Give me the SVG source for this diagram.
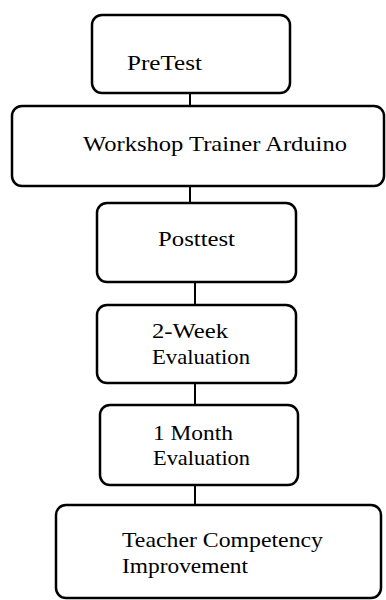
<svg xmlns="http://www.w3.org/2000/svg" width="386" height="600" viewBox="0 0 386 600">
<style>
.box{fill:#fff;stroke:#000;stroke-width:2.5}
.t{font-family:"Liberation Serif","Times New Roman",serif;font-size:22px;fill:#000}
.c{stroke:#000;stroke-width:2;fill:none}
</style>
<rect width="386" height="600" fill="#fff"/>
<g id="connectors">
<line class="c" x1="190" y1="93" x2="190" y2="106"/>
<line class="c" x1="190" y1="186" x2="190" y2="203"/>
<line class="c" x1="195" y1="282" x2="195" y2="305"/>
<line class="c" x1="195" y1="383" x2="195" y2="405"/>
<line class="c" x1="195" y1="485" x2="195" y2="505"/>
</g>
<g id="pretest">
<rect class="box" x="92" y="15" width="198" height="78" rx="10"/>
<text class="t" x="127" y="70" textLength="75" lengthAdjust="spacingAndGlyphs">PreTest</text>
</g>
<g id="workshop">
<rect class="box" x="12" y="106" width="372" height="80" rx="10"/>
<text class="t" x="83" y="151" textLength="264" lengthAdjust="spacingAndGlyphs">Workshop Trainer Arduino</text>
</g>
<g id="posttest">
<rect class="box" x="97" y="203" width="199" height="79" rx="10"/>
<text class="t" x="158" y="246" textLength="77" lengthAdjust="spacingAndGlyphs">Posttest</text>
</g>
<g id="week2">
<rect class="box" x="97" y="305" width="199" height="78" rx="10"/>
<text class="t" x="152" y="338" textLength="76" lengthAdjust="spacingAndGlyphs">2-Week</text>
<text class="t" x="152" y="364" textLength="98" lengthAdjust="spacingAndGlyphs">Evaluation</text>
</g>
<g id="month1">
<rect class="box" x="100" y="405" width="198" height="80" rx="10"/>
<text class="t" x="153" y="440" textLength="80" lengthAdjust="spacingAndGlyphs">1 Month</text>
<text class="t" x="153" y="465" textLength="97" lengthAdjust="spacingAndGlyphs">Evaluation</text>
</g>
<g id="improvement">
<rect class="box" x="56" y="505" width="325" height="93" rx="10"/>
<text class="t" x="122" y="547" textLength="201" lengthAdjust="spacingAndGlyphs">Teacher Competency</text>
<text class="t" x="122" y="573" textLength="126" lengthAdjust="spacingAndGlyphs">Improvement</text>
</g>
</svg>
